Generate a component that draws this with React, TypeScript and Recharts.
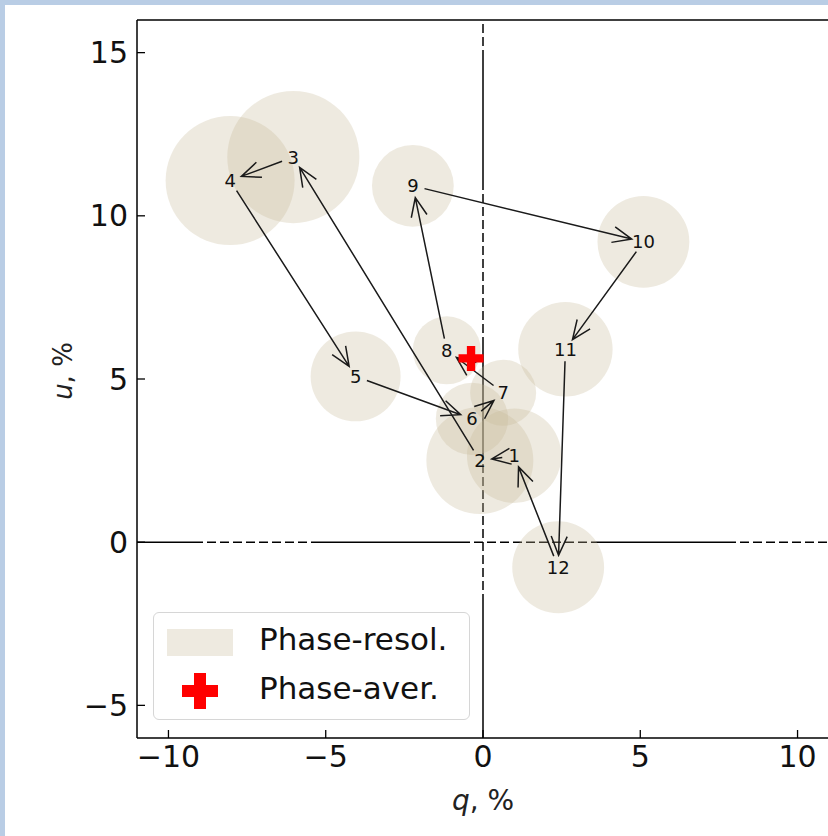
import React from "react";
import { ScatterChart, Scatter, XAxis, YAxis, ZAxis, ReferenceLine, Legend } from "recharts";

// phase bins, Stokes q/u (%) and their error radii (%)
const PHASES = [1, 2, 3, 4, 5, 6, 7, 8, 9, 10, 11, 12];
const Q_VALUES = [0.99, -0.1, -6.03, -8.04, -4.05, -0.35, 0.64, -1.15, -2.23, 5.1, 2.62, 2.39];
const U_VALUES = [2.65, 2.5, 11.8, 11.08, 5.08, 3.78, 4.58, 5.88, 10.92, 9.2, 5.91, -0.77];
const ERRORS = [1.5, 1.7, 2.1, 2.05, 1.43, 1.15, 1.05, 1.08, 1.3, 1.46, 1.5, 1.46];

// phase-averaged value
const MEAN_Q = [-0.38];
const MEAN_U = [5.63];

const X_TICKS = [-10, -5, 0, 5, 10];
const Y_TICKS = [-5, 0, 5, 10, 15];
const X_DOMAIN = [-11, 11];
const Y_DOMAIN = [-6, 16];

const CHART_W = 840;
const CHART_H = 836;
const MARGIN = { top: 19, right: 10, bottom: 0, left: 0 };
const Y_AXIS_W = 137;
const X_AXIS_H = 98;
const PLOT_W = CHART_W - MARGIN.left - MARGIN.right - Y_AXIS_W - 1;
const PX_PER_UNIT = PLOT_W / (X_DOMAIN[1] - X_DOMAIN[0]);

const CIRCLE_FILL = "#c6b998";
const CIRCLE_ALPHA = 0.3;
const FONT = '"DejaVu Sans", sans-serif';

const phaseRows = PHASES.map((n, i) => ({
  n,
  q: Q_VALUES[i],
  u: U_VALUES[i],
  r2: ERRORS[i] * ERRORS[i],
}));
const meanRows = MEAN_Q.map((q, i) => ({ q, u: MEAN_U[i] }));

// zero lines: mixed solid / dashed runs, lengths in px along the line
const H_RUNS: [string, number][] = [
  ["solid", 66], ["dash", 115], ["solid", 152], ["dash", 128], ["solid", 138], ["dash", 93],
];
const V_RUNS: [string, number][] = [
  ["dash", 30], ["solid", 140], ["dash", 155], ["solid", 115], ["dash", 140], ["solid", 138],
];

function buildDash(runs: [string, number][]) {
  const out: number[] = [];
  const push = (len: number, on: boolean) => {
    if (out.length === 0 && !on) out.push(0);
    const nextIsOn = out.length % 2 === 0;
    if (on === nextIsOn) out.push(len);
    else out[out.length - 1] += len;
  };
  for (const [kind, len] of runs) {
    if (kind === "solid") {
      push(len, true);
      continue;
    }
    let rem = len;
    push(Math.min(4, rem), false);
    rem -= 4;
    while (rem > 0) {
      const d = Math.min(9, rem);
      push(d, true);
      rem -= d;
      if (rem > 0) {
        const g = Math.min(4, rem);
        push(g, false);
        rem -= g;
      }
    }
  }
  return out.join(" ");
}

const minus = (v: number) => String(v).replace("-", "\u2212");

function plusPath(cx: number, cy: number, size: number) {
  const a = size / 2;
  const t = size / 6;
  const l = a - t;
  return `M${cx - t},${cy - a}h${2 * t}v${l}h${l}v${2 * t}h${-l}v${l}h${-2 * t}v${-l}h${-l}v${-2 * t}h${l}z`;
}

// arrows from each phase to the next, closing the loop 12 -> 1
const SHRINK = 12;
const HEAD_LEN = 19;
const HEAD_HALF = 8;

const PhaseArrows = (props: any) => {
  const pts: { x: number; y: number }[] = props.points || [];
  return (
    <g>
      {pts.map((a, i) => {
        const b = pts[(i + 1) % pts.length];
        const dx = b.x - a.x;
        const dy = b.y - a.y;
        const len = Math.hypot(dx, dy) || 1;
        const ux = dx / len;
        const uy = dy / len;
        const sx = a.x + ux * SHRINK;
        const sy = a.y + uy * SHRINK;
        const ex = b.x - ux * SHRINK;
        const ey = b.y - uy * SHRINK;
        const bx = ex - ux * HEAD_LEN;
        const by = ey - uy * HEAD_LEN;
        const d =
          `M${sx},${sy}L${ex},${ey}` +
          `M${bx - uy * HEAD_HALF},${by + ux * HEAD_HALF}L${ex},${ey}L${bx + uy * HEAD_HALF},${by - ux * HEAD_HALF}`;
        return (
          <path key={i} d={d} fill="none" stroke="#1a1a1a" strokeWidth={1.5} strokeLinejoin="miter" />
        );
      })}
    </g>
  );
};

const PhaseLabel = (props: any) => (
  <text
    x={props.cx}
    y={props.cy}
    textAnchor="middle"
    dominantBaseline="central"
    fontSize={18}
    fill="#111"
    fontFamily={FONT}
  >
    {props.payload.n}
  </text>
);

const MeanMarker = (props: any) => <path d={plusPath(props.cx, props.cy, 25)} fill="#ff0000" />;

const QTitle = (props: any) => {
  const vb = props.viewBox;
  return (
    <text x={vb.x + vb.width / 2} y={vb.y + 72} textAnchor="middle" fontSize={28} fill="#222" fontFamily={FONT}>
      <tspan fontStyle="italic">q</tspan>, %
    </text>
  );
};

const UTitle = (props: any) => {
  const vb = props.viewBox;
  const x = 72;
  const y = vb.y + vb.height / 2 - 8;
  return (
    <text x={x} y={y} transform={`rotate(-90, ${x}, ${y})`} textAnchor="middle" fontSize={26} fill="#222" fontFamily={FONT}>
      <tspan fontStyle="italic">u</tspan>, %
    </text>
  );
};

const LegendBox = () => (
  <div
    style={{
      position: "relative",
      width: 317,
      height: 108,
      boxSizing: "border-box",
      border: "1.5px solid #d6d6d6",
      borderRadius: 6,
      background: "rgba(255,255,255,0.8)",
      fontFamily: FONT,
      fontSize: 31,
      color: "#111",
    }}
  >
    <div
      style={{
        position: "absolute",
        left: 13,
        top: 16,
        width: 66,
        height: 27,
        background: CIRCLE_FILL,
        opacity: CIRCLE_ALPHA,
      }}
    />
    <svg style={{ position: "absolute", left: 28, top: 60 }} width={36} height={36}>
      <path d={plusPath(18, 18, 36)} fill="#ff0000" />
    </svg>
    <div style={{ position: "absolute", left: 105, top: 6, lineHeight: "40px" }}>Phase-resol.</div>
    <div style={{ position: "absolute", left: 105, top: 55, lineHeight: "40px" }}>Phase-aver.</div>
  </div>
);

const axisLine = { stroke: "#000", strokeWidth: 1.5 };
const tickLine = { stroke: "#000", strokeWidth: 1.3 };
const tickStyle = { fontSize: 30, fill: "#111", fontFamily: FONT };

export default function App() {
  return (
    <div
      style={{
        position: "absolute",
        left: 0,
        top: 0,
        width: 828,
        height: 836,
        overflow: "hidden",
        background: "#b9cde5",
        fontFamily: FONT,
      }}
    >
      <div style={{ position: "absolute", left: 5, top: 5, right: 0, bottom: 0, background: "#fff" }} />
      <div style={{ position: "absolute", left: 0, top: 0 }}>
        <ScatterChart width={CHART_W} height={CHART_H} margin={MARGIN}>
          <XAxis
            type="number"
            dataKey="q"
            domain={X_DOMAIN}
            ticks={X_TICKS}
            allowDataOverflow
            height={X_AXIS_H}
            axisLine={axisLine}
            tickLine={tickLine}
            tickSize={-8}
            tickMargin={16}
            tick={tickStyle}
            tickFormatter={minus}
            label={QTitle}
          />
          <XAxis
            xAxisId="top"
            orientation="top"
            type="number"
            domain={X_DOMAIN}
            ticks={X_TICKS}
            allowDataOverflow
            height={1}
            axisLine={axisLine}
            tickLine={tickLine}
            tickSize={-8}
            tick={false}
          />
          <YAxis
            type="number"
            dataKey="u"
            domain={Y_DOMAIN}
            ticks={Y_TICKS}
            allowDataOverflow
            width={Y_AXIS_W}
            axisLine={axisLine}
            tickLine={tickLine}
            tickSize={-8}
            tickMargin={17}
            tick={tickStyle}
            tickFormatter={minus}
            label={UTitle}
          />
          <YAxis
            yAxisId="right"
            orientation="right"
            type="number"
            domain={Y_DOMAIN}
            ticks={Y_TICKS}
            allowDataOverflow
            width={1}
            axisLine={axisLine}
            tickLine={tickLine}
            tickSize={-8}
            tick={false}
          />
          <ZAxis type="number" dataKey="r2" domain={[0, 10]} range={[0, 10 * Math.PI * PX_PER_UNIT * PX_PER_UNIT]} />

          <Scatter data={phaseRows} fill={CIRCLE_FILL} fillOpacity={CIRCLE_ALPHA} isAnimationActive={false} />

          <ReferenceLine
            segment={[{ x: X_DOMAIN[0], y: 0 }, { x: X_DOMAIN[1], y: 0 }]}
            stroke="#000"
            strokeWidth={1.5}
            strokeDasharray={buildDash(H_RUNS)}
          />
          <ReferenceLine
            segment={[{ x: 0, y: Y_DOMAIN[1] }, { x: 0, y: Y_DOMAIN[0] }]}
            stroke="#000"
            strokeWidth={1.5}
            strokeDasharray={buildDash(V_RUNS)}
          />

          <Scatter
            data={phaseRows}
            line={PhaseArrows}
            shape={PhaseLabel}
            isAnimationActive={false}
          />
          <Scatter data={meanRows} shape={MeanMarker} isAnimationActive={false} />

          <Legend
            layout="vertical"
            align="center"
            verticalAlign="middle"
            wrapperStyle={{ left: 153, top: 612, width: 317, height: 108 }}
            content={LegendBox}
          />
        </ScatterChart>
      </div>
    </div>
  );
}
